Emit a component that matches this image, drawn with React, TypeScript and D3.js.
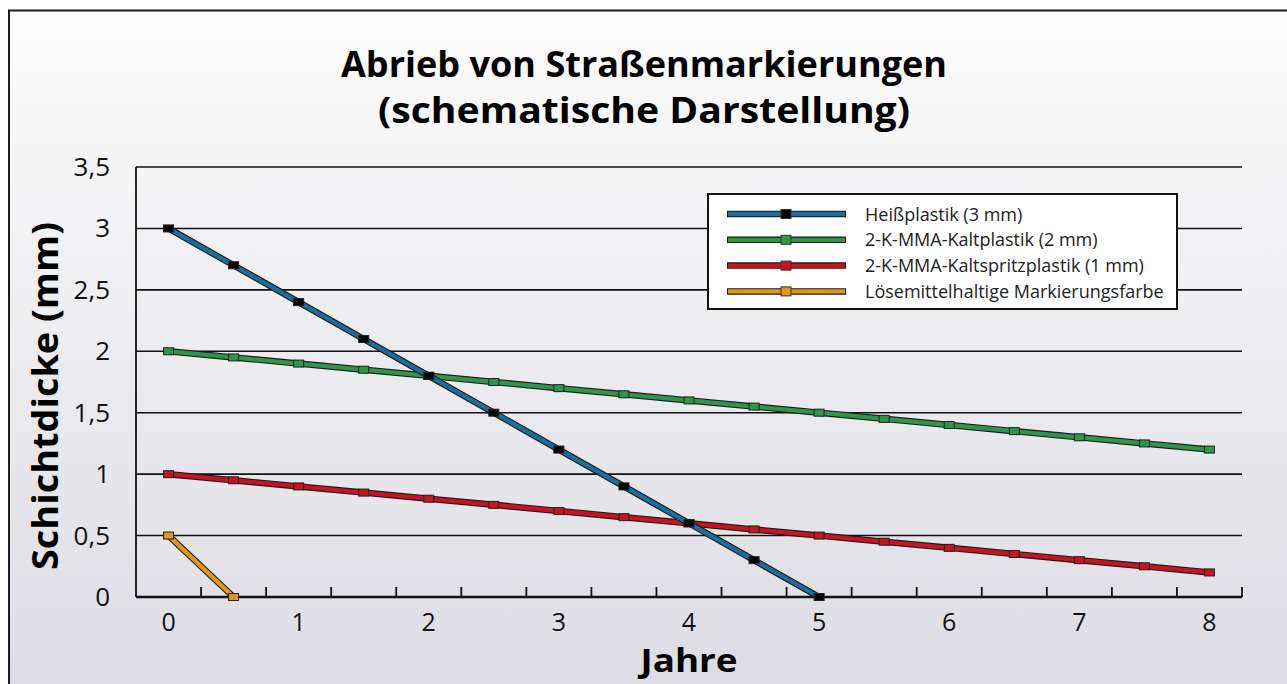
import * as d3 from 'd3';

// Jahre (x categories, half-year steps)
const years = [0, 0.5, 1, 1.5, 2, 2.5, 3, 3.5, 4, 4.5, 5, 5.5, 6, 6.5, 7, 7.5, 8];
const yTicks = [0, 0.5, 1, 1.5, 2, 2.5, 3, 3.5];

const heissplastik = [3, 2.7, 2.4, 2.1, 1.8, 1.5, 1.2, 0.9, 0.6, 0.3, 0];
const kaltplastik = [2, 1.95, 1.9, 1.85, 1.8, 1.75, 1.7, 1.65, 1.6, 1.55, 1.5, 1.45, 1.4, 1.35, 1.3, 1.25, 1.2];
const kaltspritzplastik = [1, 0.95, 0.9, 0.85, 0.8, 0.75, 0.7, 0.65, 0.6, 0.55, 0.5, 0.45, 0.4, 0.35, 0.3, 0.25, 0.2];
const loesemittelfarbe = [0.5, 0];

const seriesNames = [
  'Heißplastik (3 mm)',
  '2-K-MMA-Kaltplastik (2 mm)',
  '2-K-MMA-Kaltspritzplastik (1 mm)',
  'Lösemittelhaltige Markierungsfarbe',
];
const seriesColors = ['#1b6e9b', '#2e9648', '#c8141f', '#e2961c'];
const markerColors = ['#000000', '#2e9648', '#c8141f', '#e2961c'];
const seriesValues = [heissplastik, kaltplastik, kaltspritzplastik, loesemittelfarbe];

const W = 1287;
const H = 684;
const FONT = '"Open Sans", "Noto Sans", sans-serif';

export default function App() {
  const x = d3.scaleBand<string>().domain(years.map(String)).range([136, 1242]);
  const y = d3.scaleLinear().domain([0, 3.5]).range([597, 167]);
  const cx = (yr: number) => (x(String(yr)) ?? 0) + x.bandwidth() / 2;
  const fmt = (v: number) => String(v).replace('.', ',');

  const line = d3
    .line<number>()
    .x((_, i) => cx(years[i]))
    .y((d) => y(d));

  // draw order: blue on top
  const order = [1, 2, 3, 0];
  const [x0, x1] = x.range();

  return (
    <svg
      width={W}
      height={H}
      viewBox={`0 0 ${W} ${H}`}
      style={{ position: 'absolute', left: 0, top: 0, display: 'block' }}
    >
      <defs>
        <linearGradient id="bg" x1="0" y1="0" x2="0" y2="1">
          <stop offset="0" stopColor="#fcfcfc" />
          <stop offset="1" stopColor="#dcdbe2" />
        </linearGradient>
      </defs>
      <rect x={9} y={10.5} width={1320} height={700} fill="url(#bg)" stroke="#1e1e1e" strokeWidth={2} />

      {/* Title */}
      <text x={644} y={77} textAnchor="middle" fontFamily={FONT} fontWeight={700} fontSize={35}
        textLength={606} lengthAdjust="spacingAndGlyphs" fill="#000">
        Abrieb von Straßenmarkierungen
      </text>
      <text x={644} y={123} textAnchor="middle" fontFamily={FONT} fontWeight={700} fontSize={35}
        textLength={532} lengthAdjust="spacingAndGlyphs" fill="#000">
        (schematische Darstellung)
      </text>

      {/* Grid */}
      {yTicks.filter((t) => t > 0).map((t) => (
        <line key={`g${t}`} x1={x0} x2={x1} y1={y(t)} y2={y(t)} stroke="#111" strokeWidth={1.6} />
      ))}

      {/* Axes */}
      <line x1={x0} x2={x0} y1={y(3.5)} y2={y(0)} stroke="#111" strokeWidth={1.8} />
      <line x1={x0} x2={x1} y1={y(0)} y2={y(0)} stroke="#111" strokeWidth={2.4} />
      {years.map((yr, i) => {
        const tx = i === years.length - 1 ? x1 : (x(String(years[i + 1])) ?? 0);
        return <line key={`t${yr}`} x1={tx} x2={tx} y1={y(0)} y2={y(0) - 10} stroke="#111" strokeWidth={1.8} />;
      })}

      {/* Y tick labels */}
      {yTicks.map((t) => (
        <text key={`yl${t}`} x={110} y={y(t) + 9} textAnchor="end" fontFamily={FONT} fontSize={26} fill="#111">
          {fmt(t)}
        </text>
      ))}

      {/* X tick labels */}
      {years.filter((yr) => Number.isInteger(yr)).map((yr) => (
        <text key={`xl${yr}`} x={cx(yr)} y={631} textAnchor="middle" fontFamily={FONT} fontSize={25} fill="#111">
          {yr}
        </text>
      ))}

      {/* Axis titles */}
      <text x={(x0 + x1) / 2} y={672} textAnchor="middle" fontFamily={FONT} fontWeight={700} fontSize={33}
        textLength={97} lengthAdjust="spacingAndGlyphs" fill="#000">
        Jahre
      </text>
      <text transform={`translate(58,${396}) rotate(-90)`} textAnchor="middle" fontFamily={FONT} fontWeight={700}
        fontSize={35} textLength={348} lengthAdjust="spacingAndGlyphs" fill="#000">
        Schichtdicke (mm)
      </text>

      {/* Series */}
      {order.map((s) => {
        const vals = seriesValues[s];
        return (
          <g key={`s${s}`}>
            <path d={line(vals) ?? ''} fill="none" stroke="#1a1a1a" strokeWidth={6.5} strokeLinejoin="round" />
            <path d={line(vals) ?? ''} fill="none" stroke={seriesColors[s]} strokeWidth={4.3} strokeLinejoin="round" />
            {vals.map((v, i) => (
              <rect key={i} x={cx(years[i]) - 5} y={y(v) - 3.5} width={10} height={7}
                fill={markerColors[s]} stroke="#222" strokeWidth={1} />
            ))}
          </g>
        );
      })}

      {/* Legend */}
      <g transform="translate(708,194)">
        <rect x={0} y={0} width={469} height={115} fill="#fff" stroke="#111" strokeWidth={2} />
        {seriesNames.map((name, i) => {
          const ly = 20 + i * 25.8;
          return (
            <g key={name}>
              <line x1={19} x2={138} y1={ly} y2={ly} stroke="#1a1a1a" strokeWidth={6.5} />
              <line x1={20} x2={137} y1={ly} y2={ly} stroke={seriesColors[i]} strokeWidth={4.3} />
              <rect x={73} y={ly - 4.5} width={10} height={9} fill={markerColors[i]} stroke="#333" strokeWidth={1} />
              <text x={157} y={ly + 6.5} fontFamily={FONT} fontSize={18} fill="#222">
                {name}
              </text>
            </g>
          );
        })}
      </g>
    </svg>
  );
}
